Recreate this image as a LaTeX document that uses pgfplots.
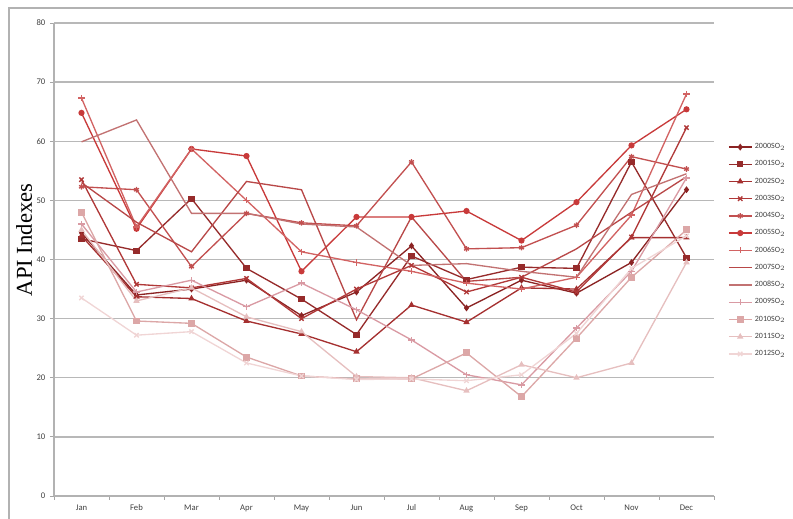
\documentclass[border=0pt]{standalone}
\usepackage{pgfplots}
\pgfplotsset{compat=1.18}
\usepackage{pgfplotstable}
\usepackage{fontspec}
\setmainfont{Carlito}
\newfontfamily\serif{Liberation Serif}
\definecolor{c00}{HTML}{8B2323}
\definecolor{c01}{HTML}{962B2B}
\definecolor{c02}{HTML}{A53030}
\definecolor{c03}{HTML}{B03838}
\definecolor{c04}{HTML}{C25050}
\definecolor{c05}{HTML}{C83A3A}
\definecolor{c06}{HTML}{D26363}
\definecolor{c07}{HTML}{B84848}
\definecolor{c08}{HTML}{C27272}
\definecolor{c09}{HTML}{D99AA3}
\definecolor{c10}{HTML}{DCA7A7}
\definecolor{c11}{HTML}{E6BFBF}
\definecolor{c12}{HTML}{F0D5D5}
\pgfplotstableread{
m  a00  a01  a02  a03  a04  a05  a06  a07  a08  a09  a10  a11  a12
0  44.5 43.5 44.0 53.5 52.3 64.8 67.3 53.0 59.9 46.0 48.0 45.0 33.5
1  34.0 41.5 33.7 35.8 51.8 45.2 45.5 46.3 63.6 34.5 29.6 33.0 27.2
2  35.0 50.3 33.4 35.2 38.8 58.7 58.7 41.3 47.8 36.5 29.2 35.2 27.8
3  36.5 38.5 29.6 36.8 47.8 57.5 50.0 53.2 47.8 32.0 23.5 30.3 22.5
4  30.5 33.3 27.4 30.0 46.2 38.0 41.3 51.8 46.0 36.0 20.3 27.8 20.3
5  34.5 27.3 24.4 35.0 45.7 47.2 39.5 29.8 45.5 31.5 19.8 20.2 19.7
6  42.3 40.6 32.3 39.0 56.5 47.2 38.0 47.2 39.0 26.4 19.8 20.0 19.8
7  31.8 36.6 29.4 34.5 41.8 48.2 36.0 36.3 39.3 20.5 24.2 17.8 19.5
8  36.5 38.7 35.2 37.0 42.0 43.2 35.0 37.0 38.0 18.8 16.8 22.2 20.5
9  34.3 38.5 35.0 34.5 45.8 49.7 37.0 41.8 37.0 28.4 26.7 20.0 27.5
10 39.5 56.5 43.7 43.8 57.4 59.3 47.5 48.0 51.0 38.0 37.0 22.5 38.5
11 51.8 40.3 43.7 62.3 55.3 65.4 68.0 54.0 54.5 53.8 45.0 39.5 44.0
}\datatable
\begin{document}
\begin{tikzpicture}[x=1pt,y=1pt]
\useasboundingbox (-40.5,-16.5) rectangle (554.25,372);
\draw[black!30, line width=1pt] (-33.75,-20) -- (-33.75,366) -- (560,366);
\begin{axis}[at={(0,0)}, anchor=south west, scale only axis,
  width=495pt, height=354.75pt,
  xmin=-0.5, xmax=11.5, ymin=0, ymax=80,
  ytick={0,10,...,80},
  xtick={0,...,11},
  xticklabels={Jan,Feb,Mar,Apr,May,Jun,Jul,Aug,Sep,Oct,Nov,Dec},
  minor xtick={-0.5,0.5,...,11.5},
  axis x line*=bottom, axis y line*=left,
  ymajorgrids, grid style={black!28, line width=1pt},
  axis line style={black!30, line width=1pt},
  major x tick style={draw=none},
  minor x tick style={black!35, line width=0.6pt},
  y tick style={black!35, line width=0.6pt},
  tick align=outside, major tick length=3pt, minor tick length=3pt,
  tick label style={font=\fontsize{6.5}{7}\selectfont, text=black!75},
  /pgf/number format/assume math mode=true,
  every axis plot/.append style={line width=1pt, mark size=1.8pt},
  legend style={draw=none, fill=none, at={(1.015,0.757)}, anchor=north west,
    font=\fontsize{6}{7}\selectfont, row sep=3.5pt, text=black!75},
  legend cell align=left,
]
\addplot[c00, mark=diamond*] table[x=m,y=a00]{\datatable};
\addlegendentry{2000SO$_2$}
\addplot[c01, mark=square*] table[x=m,y=a01]{\datatable};
\addlegendentry{2001SO$_2$}
\addplot[c02, mark=triangle*] table[x=m,y=a02]{\datatable};
\addlegendentry{2002SO$_2$}
\addplot[c03, mark=x, mark size=2.3pt] table[x=m,y=a03]{\datatable};
\addlegendentry{2003SO$_2$}
\addplot[c04, mark=asterisk, mark size=2.1pt] table[x=m,y=a04]{\datatable};
\addlegendentry{2004SO$_2$}
\addplot[c05, mark=*] table[x=m,y=a05]{\datatable};
\addlegendentry{2005SO$_2$}
\addplot[c06, mark=+, mark size=2.3pt] table[x=m,y=a06]{\datatable};
\addlegendentry{2006SO$_2$}
\addplot[c07, no markers] table[x=m,y=a07]{\datatable};
\addlegendentry{2007SO$_2$}
\addplot[c08, no markers] table[x=m,y=a08]{\datatable};
\addlegendentry{2008SO$_2$}
\addplot[c09, mark=+, mark size=2.3pt] table[x=m,y=a09]{\datatable};
\addlegendentry{2009SO$_2$}
\addplot[c10, mark=square*, mark size=2.1pt] table[x=m,y=a10]{\datatable};
\addlegendentry{2010SO$_2$}
\addplot[c11, mark=triangle*] table[x=m,y=a11]{\datatable};
\addlegendentry{2011SO$_2$}
\addplot[c12, mark=x, mark size=2.3pt] table[x=m,y=a12]{\datatable};
\addlegendentry{2012SO$_2$}
\end{axis}
\node[rotate=90, font=\serif\fontsize{17}{20}\selectfont] at (-22.5,192) {API Indexes};
\end{tikzpicture}
\end{document}
